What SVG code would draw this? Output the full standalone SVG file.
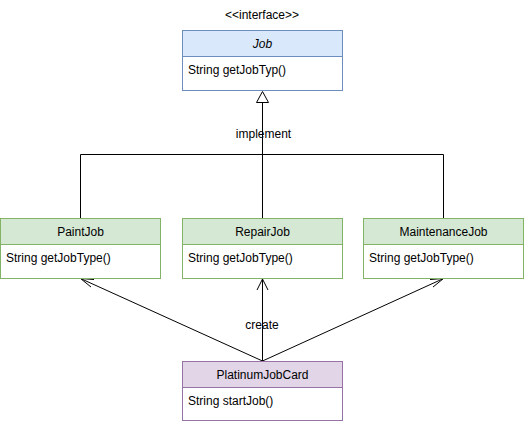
<svg xmlns="http://www.w3.org/2000/svg" width="524" height="421" viewBox="0 0 524 421">
<style>
text{font-family:"Liberation Sans",Arial,sans-serif;font-size:12px;fill:#000}
.c{text-anchor:middle}
.ln{fill:none;stroke:#000;stroke-width:1}
.body{fill:#fff}
.blue{fill:#dae8fc;stroke:#6c8ebf}
.green{fill:#d5e8d4;stroke:#82b366}
.purple{fill:#e1d5e7;stroke:#9673a6}
</style>
<rect width="524" height="421" fill="#fff"/>
<g id="connectors">
<path class="ln" d="M80.5 218V154.5H443.5V218"/>
<path class="ln" d="M262.5 218V102"/>
<path d="M262.5 91.5L268.5 102.5H256.5Z" fill="#fff" stroke="#000"/>
<text class="c" x="263.5" y="138">implement</text>
<path class="ln" d="M262.5 361L80.5 278.5M262.5 361V279M262.5 361L443.5 278.5"/>
<path class="ln" d="M91 287L80.5 278.5L94 279.5"/>
<path class="ln" d="M257 290L262.5 279L268 290"/>
<path class="ln" d="M430 279.5L443.5 278.5L433 287"/>
<text class="c" x="262" y="329">create</text>
</g>
<g id="job">
<text class="c" x="262" y="19">&lt;&lt;interface&gt;&gt;</text>
<rect class="body" x="182.5" y="30.5" width="160" height="60" stroke="#6c8ebf"/>
<rect class="blue" x="182.5" y="30.5" width="160" height="26"/>
<text class="c" x="262.5" y="48" font-style="italic">Job</text>
<text x="188" y="74">String getJobTyp()</text>
</g>
<g id="paintjob">
<rect class="body" x="0.5" y="218.5" width="160" height="60" stroke="#82b366"/>
<rect class="green" x="0.5" y="218.5" width="160" height="26"/>
<text class="c" x="80.5" y="236">PaintJob</text>
<text x="6" y="262">String getJobType()</text>
</g>
<g id="repairjob">
<rect class="body" x="182.5" y="218.5" width="160" height="60" stroke="#82b366"/>
<rect class="green" x="182.5" y="218.5" width="160" height="26"/>
<text class="c" x="262.5" y="236">RepairJob</text>
<text x="188" y="262">String getJobType()</text>
</g>
<g id="maintenancejob">
<rect class="body" x="363.5" y="218.5" width="160" height="60" stroke="#82b366"/>
<rect class="green" x="363.5" y="218.5" width="160" height="26"/>
<text class="c" x="443.5" y="236">MaintenanceJob</text>
<text x="369" y="262">String getJobType()</text>
</g>
<g id="platinumjobcard">
<rect class="body" x="182.5" y="361.5" width="160" height="59" stroke="#9673a6"/>
<rect class="purple" x="182.5" y="361.5" width="160" height="26"/>
<text class="c" x="262.5" y="379">PlatinumJobCard</text>
<text x="188" y="405">String startJob()</text>
</g>
</svg>
